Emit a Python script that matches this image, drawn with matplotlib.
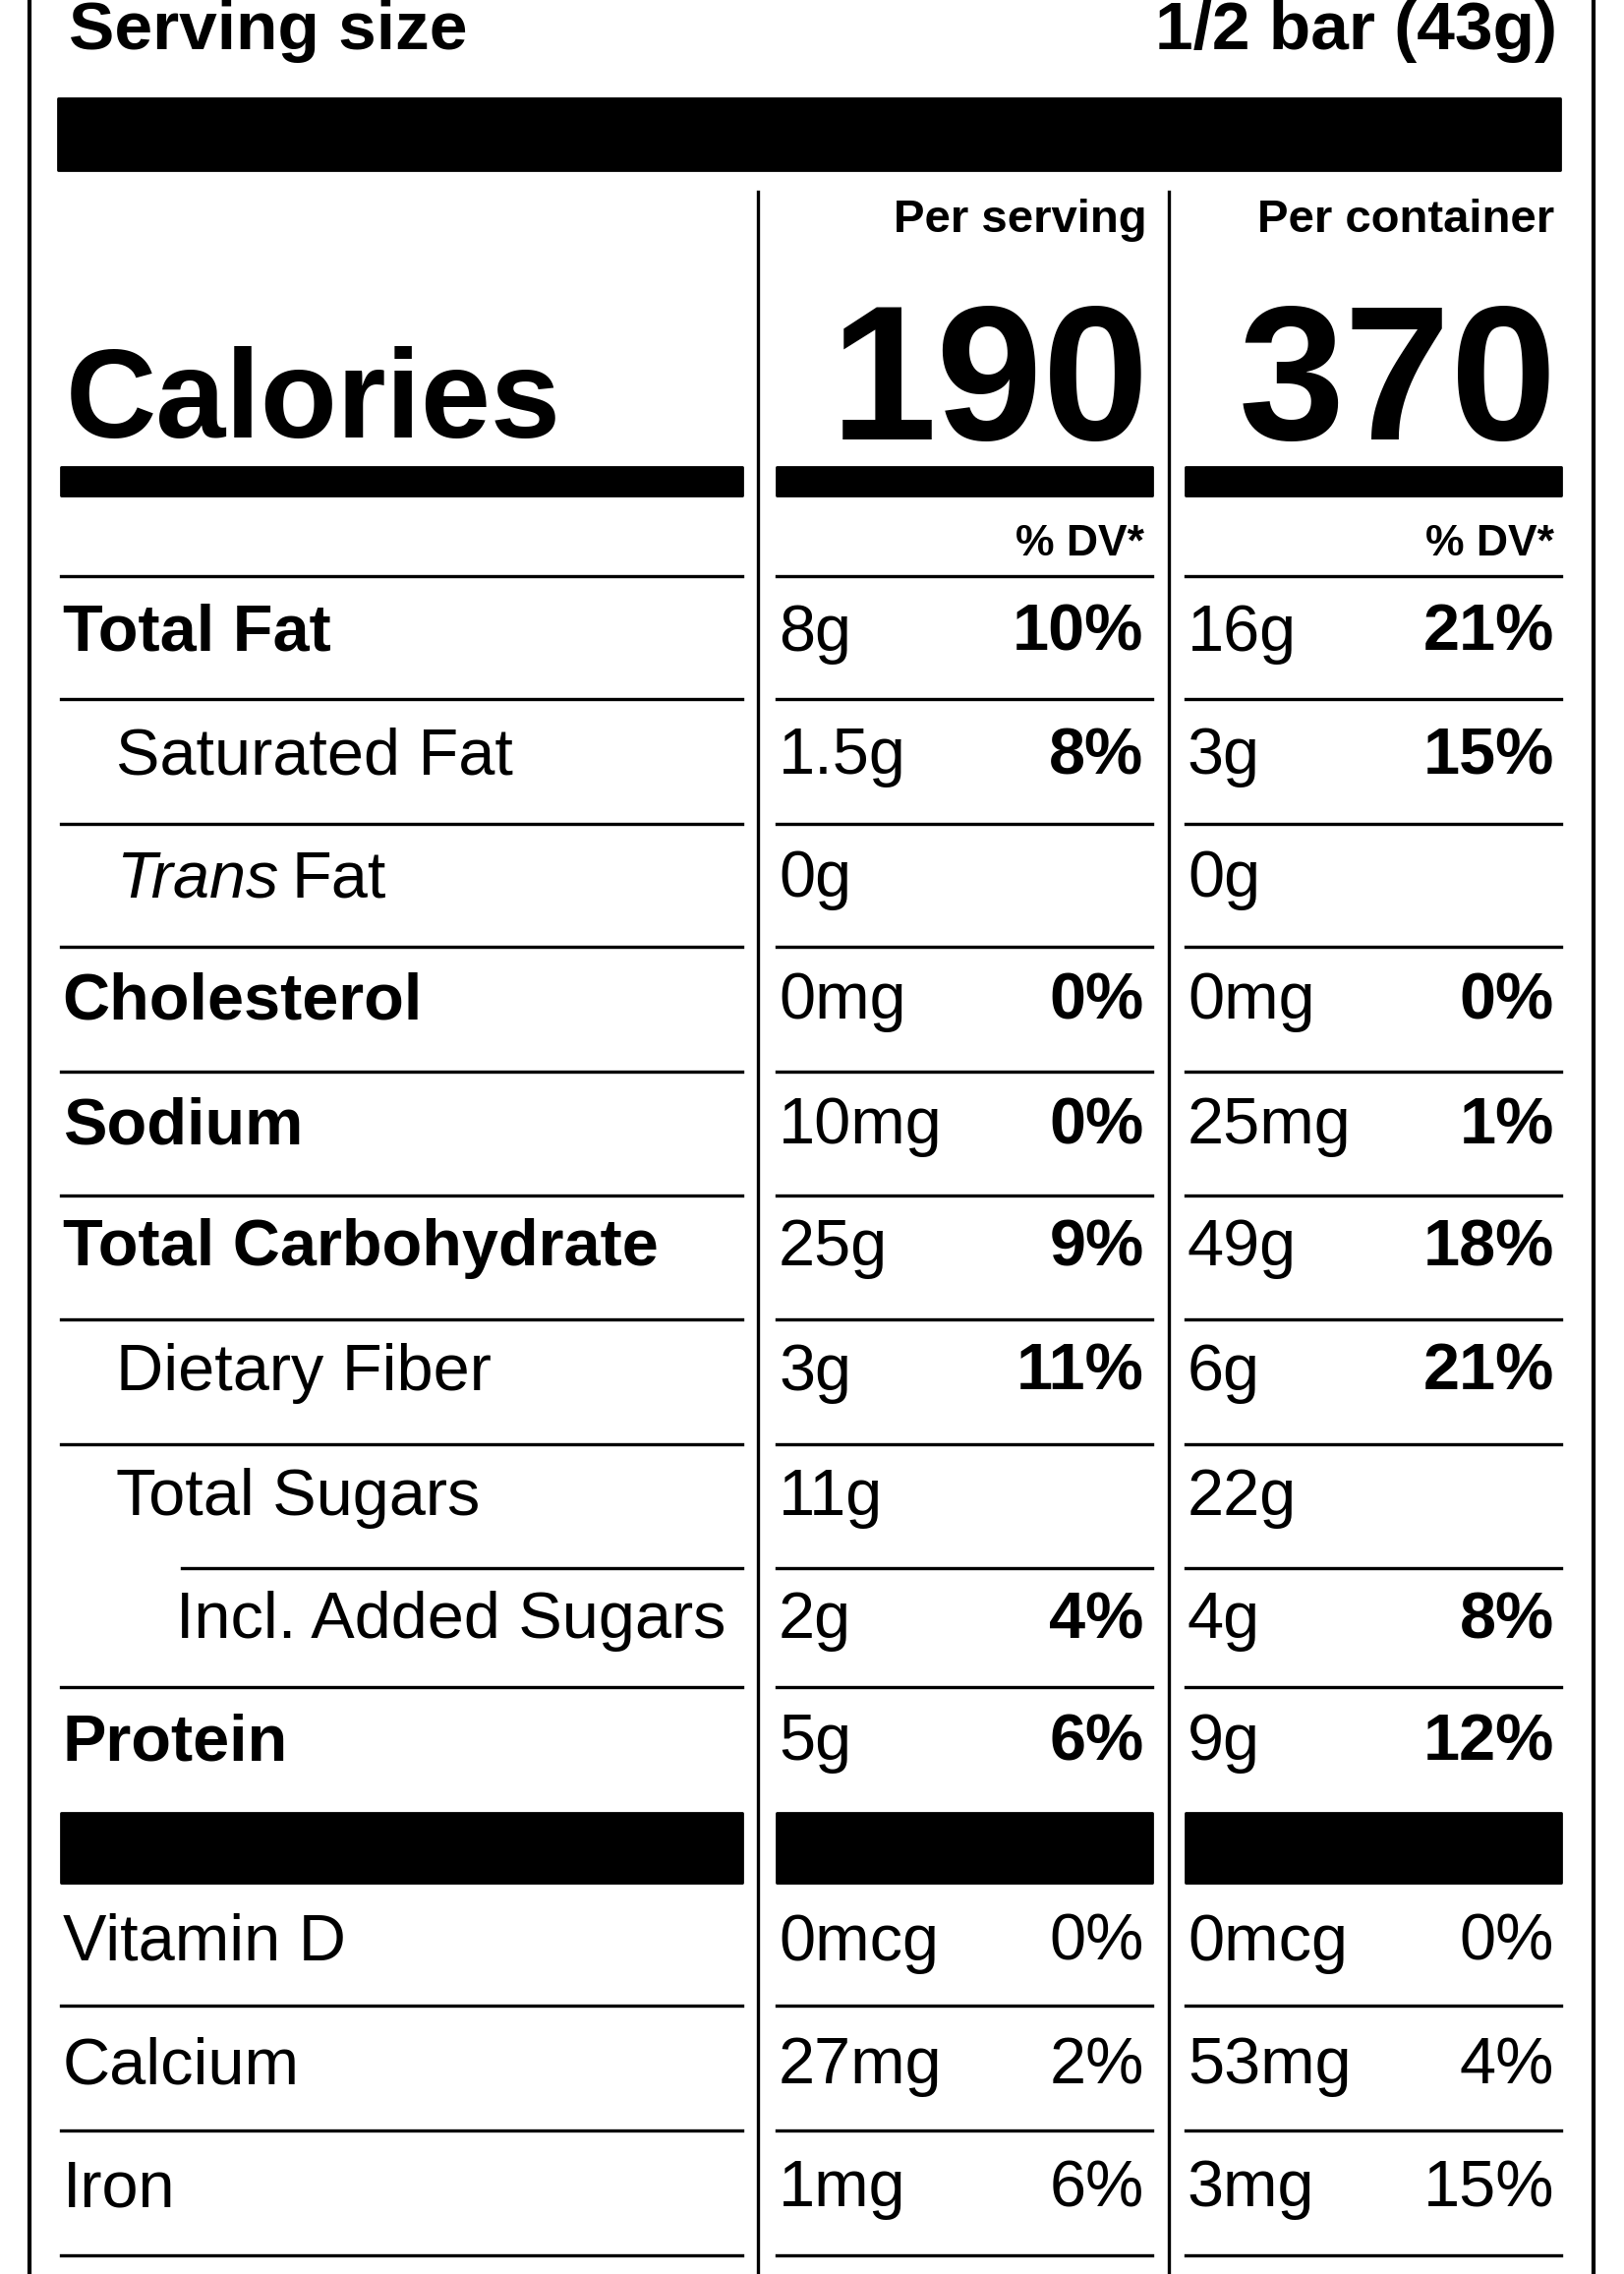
import matplotlib.pyplot as plt

plt.rcParams['font.family'] = ['Liberation Sans', 'DejaVu Sans']

# nutrient rows
nutrients = ['Total Fat', 'Saturated Fat', 'Trans Fat', 'Cholesterol', 'Sodium',
             'Total Carbohydrate', 'Dietary Fiber', 'Total Sugars', 'Incl. Added Sugars', 'Protein']
serv_amt = ['8g', '1.5g', '0g', '0mg', '10mg', '25g', '3g', '11g', '2g', '5g']
serv_dv = ['10%', '8%', '', '0%', '0%', '9%', '11%', '', '4%', '6%']
cont_amt = ['16g', '3g', '0g', '0mg', '25mg', '49g', '6g', '22g', '4g', '9g']
cont_dv = ['21%', '15%', '', '0%', '1%', '18%', '21%', '', '8%', '12%']
bold = [True, False, False, True, True, True, False, False, False, True]
indent = [0, 1, 1, 0, 0, 0, 1, 1, 2, 0]

vitamins = ['Vitamin D', 'Calcium', 'Iron']
vit_serv_amt = ['0mcg', '27mg', '1mg']
vit_serv_dv = ['0%', '2%', '6%']
vit_cont_amt = ['0mcg', '53mg', '3mg']
vit_cont_dv = ['0%', '4%', '15%']

cal_serv = '190'
cal_cont = '370'

W, H = 1116, 1568
fig = plt.figure(figsize=(1652 / 200, 2313 / 200), dpi=200)
ax = fig.add_axes([0, 0, 1, 1])
ax.set_xlim(0, W)
ax.set_ylim(H, 0)
ax.axis('off')

cols = [(42, 510), (534, 792), (815, 1073)]
k = 'black'
fs = 24

# frame
ax.plot([20, 20], [0, H], color=k, lw=1.5)
ax.plot([1095, 1095], [0, H], color=k, lw=1.5)
ax.plot([521, 521], [132, H], color=k, lw=1.2)
ax.plot([803, 803], [132, H], color=k, lw=1.2)

ax.text(47, 22, 'Serving size', fontsize=25, fontweight='bold', va='center')
ax.text(1070, 22, '1/2 bar (43g)', fontsize=25, fontweight='bold', va='center', ha='right')
ax.fill_between([40, 1072], 68, 117, color=k)

ax.text(788, 152, 'Per serving', fontsize=17, fontweight='bold', va='center', ha='right')
ax.text(1068, 152, 'Per container', fontsize=17, fontweight='bold', va='center', ha='right')
ax.text(790, 303, cal_serv, fontsize=70, fontweight='bold', va='baseline', ha='right')
ax.text(1070, 303, cal_cont, fontsize=70, fontweight='bold', va='baseline', ha='right')
ax.text(45, 302, 'Calories', fontsize=46, fontweight='bold', va='baseline')

for x0, x1 in cols:
    ax.fill_between([x0, x1], 322, 342, color=k)
    ax.fill_between([x0, x1], 1250, 1298, color=k)
ax.text(786, 375, '% DV*', fontsize=16, fontweight='bold', va='center', ha='right')
ax.text(1068, 375, '% DV*', fontsize=16, fontweight='bold', va='center', ha='right')
for x0, x1 in cols:
    ax.plot([x0, x1], [397, 397], color=k, lw=1.2)

def row(y, name, b, ind, sa, sd, ca, cd, vit=False):
    lx = 43 + [0, 37, 78][ind]
    if name == 'Trans Fat':
        ax.text(lx, y, 'Trans', fontsize=fs, style='italic', va='center')
        ax.text(lx + 120, y, 'Fat', fontsize=fs, va='center')
    else:
        ax.text(lx, y, name, fontsize=fs, fontweight='bold' if b else 'normal', va='center')
    dvw = 'normal' if vit else 'bold'
    ax.text(535, y, sa, fontsize=fs, va='center')
    ax.text(786, y, sd, fontsize=fs, fontweight=dvw, va='center', ha='right')
    ax.text(816, y, ca, fontsize=fs, va='center')
    ax.text(1068, y, cd, fontsize=fs, fontweight=dvw, va='center', ha='right')

ys = [437, 522, 607, 691, 777, 861, 947, 1033, 1118, 1202]
lines = [482, 568, 653, 739, 824, 910, 996, 1081, 1163]
for i, y in enumerate(ys):
    row(y, nutrients[i], bold[i], indent[i], serv_amt[i], serv_dv[i], cont_amt[i], cont_dv[i])
for i, ly in enumerate(lines):
    x0 = 125 if i == 7 else cols[0][0]
    ax.plot([x0, cols[0][1]], [ly, ly], color=k, lw=1.2)
    for c0, c1 in cols[1:]:
        ax.plot([c0, c1], [ly, ly], color=k, lw=1.2)

vys = [1340, 1425, 1510]
vlines = [1383, 1469, 1555]
for i, y in enumerate(vys):
    row(y, vitamins[i], False, 0, vit_serv_amt[i], vit_serv_dv[i], vit_cont_amt[i], vit_cont_dv[i], vit=True)
    for c0, c1 in cols:
        ax.plot([c0, c1], [vlines[i], vlines[i]], color=k, lw=1.2)

fig.savefig('out.png', dpi=200, facecolor='white')
